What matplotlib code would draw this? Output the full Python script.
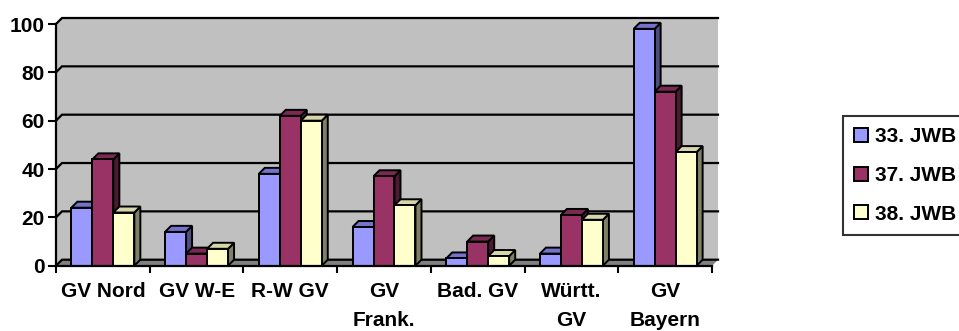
import matplotlib.pyplot as plt
from matplotlib.patches import Polygon

plt.rcParams['font.family'] = ['Liberation Sans', 'DejaVu Sans']

categories = ['GV Nord', 'GV W-E', 'R-W GV', 'GV\nFrank.', 'Bad. GV', 'Württ.\nGV', 'GV\nBayern']
series = ['33. JWB', '37. JWB', '38. JWB']
jwb33 = [24, 14, 38, 16, 3, 5, 98]
jwb37 = [44, 5, 62, 37, 10, 21, 72]
jwb38 = [22, 7, 60, 25, 4, 19, 47]

front = ['#9999FF', '#993366', '#FFFFCC']
top = ['#7373CC', '#7A2952', '#D6D6AA']
side = ['#4D4D80', '#4D1A33', '#808066']

W, H = 959, 331
fig = plt.figure(figsize=(W / 100, H / 100), dpi=100)
x0, x1, y0, y1 = 56, 712, 265.7, 24
ax = fig.add_axes([x0 / W, (H - y0) / H, (x1 - x0) / W, (y0 - y1) / H])
ax.set_xlim(-0.5, 6.5)
ax.set_ylim(0, 100)

# depth offset of the 3D box in data units (~6 px)
dx = 6 / ((x1 - x0) / 7)
dy = 6 / ((y0 - y1) / 100)

# walls and floor
wall = Polygon([(-0.5, 0), (-0.5, 100), (-0.5 + dx, 100 + dy), (6.5 + dx, 100 + dy),
                (6.5 + dx, dy), (6.5, 0)], closed=True, fc='#C0C0C0', ec='none',
               clip_on=False, zorder=0)
ax.add_patch(wall)
floor = Polygon([(-0.5, 0), (6.5, 0), (6.5 + dx, dy), (-0.5 + dx, dy)], closed=True,
                fc='#808080', ec='none', clip_on=False, zorder=0.5)
ax.add_patch(floor)
for v in range(0, 101, 20):
    ax.plot([-0.5, -0.5 + dx, 6.5 + dx], [v, v + dy, v + dy], color='black', lw=1.6,
            clip_on=False, zorder=0.8, solid_joinstyle='miter')

# bars with front, side and top faces
bw = 0.224
data = [jwb33, jwb37, jwb38]
for i in range(len(categories)):
    for k in range(3):
        v = data[k][i]
        xl = i + (k - 1) * bw - bw / 2
        xr = xl + bw
        z = 2 + i * 0.1 + k * 0.01
        ax.add_patch(Polygon([(xr, 0), (xr, v), (xr + dx, v + dy), (xr + dx, dy)],
                             closed=True, fc=side[k], ec='black', lw=1.4,
                             clip_on=False, zorder=z))
        ax.add_patch(Polygon([(xl, v), (xr, v), (xr + dx, v + dy), (xl + dx, v + dy)],
                             closed=True, fc=top[k], ec='black', lw=1.4,
                             clip_on=False, zorder=z))
        ax.bar(xl, v, width=bw, align='edge', color=front[k], edgecolor='black',
               lw=1.4, zorder=z + 0.001, clip_on=False,
               label=series[k] if i == 0 else None)

for s in ['top', 'right']:
    ax.spines[s].set_visible(False)
for s in ['left', 'bottom']:
    ax.spines[s].set_linewidth(1.6)
    ax.spines[s].set_zorder(5)
ax.set_facecolor('none')

fs = 15
ax.set_yticks(range(0, 101, 20))
ax.tick_params(axis='y', length=6, width=1.5, pad=2, labelsize=fs)
ax.set_xticks([i - 0.5 for i in range(8)])
ax.set_xticklabels([])
ax.tick_params(axis='x', which='major', length=5, width=1.5)
ax.set_xticks(range(7), minor=True)
ax.set_xticklabels(categories, minor=True, fontsize=fs, fontweight='bold',
                   linespacing=1.65, va='top')
ax.tick_params(axis='x', which='minor', length=0, pad=12)
for lab in ax.get_yticklabels():
    lab.set_fontweight('bold')

handles, labels = ax.get_legend_handles_labels()
leg = fig.legend(handles, labels, loc='upper left',
                 bbox_to_anchor=(843 / W, (H - 115.7) / H),
                 prop={'weight': 'bold', 'size': fs}, frameon=True, fancybox=False,
                 edgecolor='black', handlelength=0.65, handleheight=0.65,
                 handletextpad=0.35, labelspacing=0.95, borderpad=0.55,
                 borderaxespad=0)
leg.get_frame().set_linewidth(1.5)

fig.savefig('out.png', dpi=100)
